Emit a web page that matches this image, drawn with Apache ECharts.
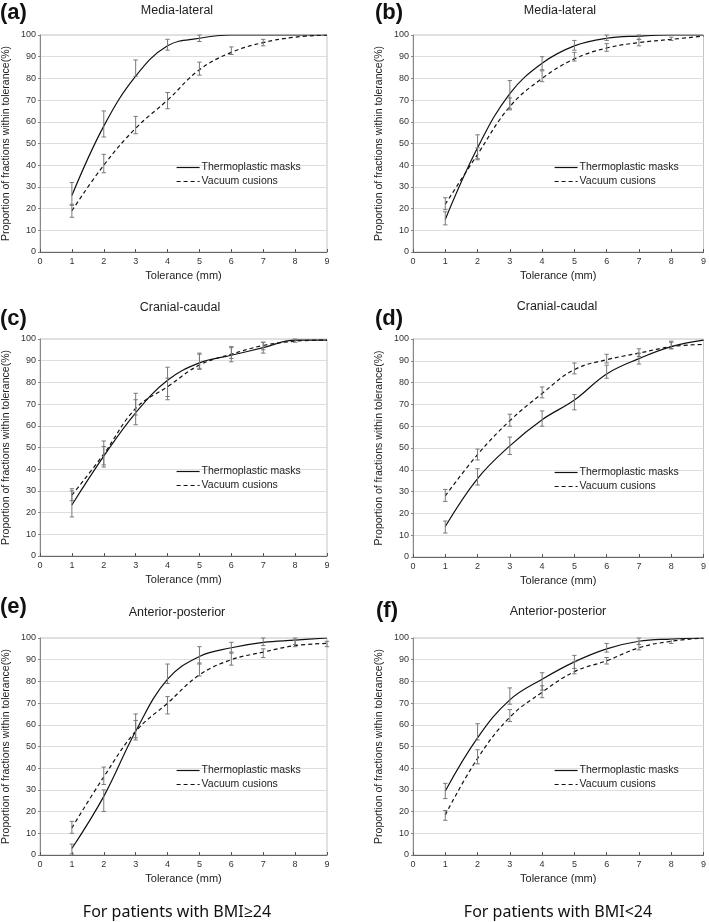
<!DOCTYPE html>
<html>
<head>
<meta charset="utf-8">
<script src="https://cdn.jsdelivr.net/npm/echarts@6/dist/echarts.min.js"></script>
<style>
html,body{margin:0;padding:0;background:#fff;}
#chart{width:709px;height:922px;}
</style>
</head>
<body>
<div id="chart"></div>
<script>
// ---- data ----
const tolerance = [1, 2, 3, 4, 5, 6, 7, 8, 9];
const xTickValues = [0, 1, 2, 3, 4, 5, 6, 7, 8, 9];
const seriesNames = ['Thermoplastic masks', 'Vacuum cusions'];
const panelLabels = ['(a)', '(b)', '(c)', '(d)', '(e)', '(f)'];
const panelTitles = ['Media-lateral', 'Media-lateral', 'Cranial-caudal', 'Cranial-caudal', 'Anterior-posterior', 'Anterior-posterior'];
const groupCaptions = ['For patients with BMI\u226524', 'For patients with BMI<24'];
const xAxisName = 'Tolerance (mm)';
const yAxisName = 'Proportion of fractions within tolerance(%)';

// (a) BMI>=24, media-lateral
const aMask = [26, 58, 81, 95, 98.5, 100, 100, 100, 100];
const aMaskLo = [21.5, 53, 81, 93, 97, null, null, null, null];
const aMaskHi = [32, 65, 88.5, 98, 100, null, null, null, null];
const aVac = [19, 40, 57, 70, 84, 92, 96.5, 99, 100];
const aVacLo = [16, 36.5, 54.5, 66, 81.5, 91, 95, null, null];
const aVacHi = [22, 45, 62.5, 73.5, 87.5, 94.5, 98, null, null];

// (b) BMI<24, media-lateral
const bMask = [15, 48, 73, 87, 95, 98.5, 99.5, 100, 100];
const bMaskLo = [12.5, 43, 66, 84, 93, 97.5, 98, null, null];
const bMaskHi = [18.5, 54, 79, 90, 97.5, 100, 100, null, null];
const bVac = [22, 45, 67, 80, 89, 94, 96.5, 98, 99.5];
const bVacLo = [19.5, 42.5, 65.5, 78.5, 88, 92.5, 95, 97.5, null];
const bVacHi = [25, 48, 71, 83.5, 92, 96, 98, 99, null];

// (c) BMI>=24, cranial-caudal
const cMask = [23.5, 46, 66, 81, 89, 92.5, 96, 99.5, 99.5];
const cMaskLo = [18, 41, 60.5, 72, 86, 89.5, 93.5, 98.5, null];
const cMaskHi = [30, 53, 72, 87, 93, 96.5, 98.5, 100, null];
const cVac = [28, 47, 68, 78, 88, 93, 97, 99, 99.5];
const cVacLo = [25.5, 42, 65, 73.5, 86.5, 91, 95, null, null];
const cVacHi = [31, 50.5, 75, 82, 93.5, 96, 98.5, null, null];

// (d) BMI<24, cranial-caudal
const dMask = [14, 36, 51, 63, 72, 84, 91, 96.5, 99.5];
const dMaskLo = [11, 33, 47, 60, 67.5, 82, 88.5, 95.5, null];
const dMaskHi = [16.5, 40.5, 55, 67, 74.5, 88, 93.5, 99, null];
const dVac = [28, 47, 62.5, 75, 86, 90.5, 93.5, 96.5, 97.5];
const dVacLo = [25.5, 44.5, 60, 73, 84, 89, 92, 95.5, null];
const dVacHi = [31, 49.5, 65.5, 78, 89, 93, 95.5, 98.5, null];

// (e) BMI>=24, anterior-posterior
const eMask = [3, 27, 57, 81, 91.5, 95.5, 98, 99, 100];
const eMaskLo = [0.5, 20, 54, 79, 88, 93, 96.5, 97, null];
const eMaskHi = [5, 30, 65, 88, 96, 98, 100, 100, null];
const eVac = [12.5, 36, 57, 70, 83, 90, 93.5, 96.5, 97.5];
const eVacLo = [10, 32.5, 53, 65, 82.5, 87.5, 91, 96, 96];
const eVacHi = [15.5, 40.5, 62, 73, 88.5, 93.5, 95, 99, 98.5];

// (f) BMI<24, anterior-posterior
const fMask = [29.5, 54, 71.5, 81, 89, 95, 98.5, 99.5, 100];
const fMaskLo = [26, 53, 69.5, 76, 86, 93.5, 97, null, null];
const fMaskHi = [33, 60.5, 77, 84, 92, 97.5, 100, null, null];
const fVac = [18.5, 44.5, 63.5, 75, 84.5, 89.5, 95.5, 98.5, 100];
const fVacLo = [16, 42, 61.5, 72.5, 83.5, 88, 94.5, 97.5, null];
const fVacHi = [20.5, 48.5, 67, 78, 89, 91, 98.5, 99.5, null];

const panels = [
  {mask: aMask, maskLo: aMaskLo, maskHi: aMaskHi, vac: aVac, vacLo: aVacLo, vacHi: aVacHi},
  {mask: bMask, maskLo: bMaskLo, maskHi: bMaskHi, vac: bVac, vacLo: bVacLo, vacHi: bVacHi},
  {mask: cMask, maskLo: cMaskLo, maskHi: cMaskHi, vac: cVac, vacLo: cVacLo, vacHi: cVacHi},
  {mask: dMask, maskLo: dMaskLo, maskHi: dMaskHi, vac: dVac, vacLo: dVacLo, vacHi: dVacHi},
  {mask: eMask, maskLo: eMaskLo, maskHi: eMaskHi, vac: eVac, vacLo: eVacLo, vacHi: eVacHi},
  {mask: fMask, maskLo: fMaskLo, maskHi: fMaskHi, vac: fVac, vacLo: fVacLo, vacHi: fVacHi}
];

// ---- layout ----
const gridBoxes = [
  {left: 35, top: 35, width: 292, height: 217},
  {left: 413, top: 35, width: 291, height: 217},
  {left: 35, top: 339, width: 292, height: 217},
  {left: 413, top: 339, width: 291, height: 218},
  {left: 35, top: 638, width: 292, height: 217},
  {left: 413, top: 638, width: 291, height: 217}
];
const labelPos = [[0, 13], [375, 13], [0, 319], [375, 319], [0, 607], [376, 611]];
const titlePos = [[177, 11], [560, 11], [180, 308], [557, 307], [177, 613], [558, 612]];
const legendPos = [[176, 162], [554, 162], [176, 466], [554, 467], [176, 765], [554, 765]];
const captionPos = [[177, 912], [558, 912]];

const FONT = '"Liberation Sans", Arial, sans-serif';

const grid = [], xAxis = [], yAxis = [], series = [], legend = [], graphic = [];

function errData(lo, hi) {
  const out = [];
  for (let i = 0; i < tolerance.length; i++) {
    if (lo[i] != null && hi[i] != null) out.push([tolerance[i], lo[i], hi[i]]);
  }
  return out;
}

function renderErr(params, api) {
  const x = api.value(0);
  const p1 = api.coord([x, api.value(1)]);
  const p2 = api.coord([x, api.value(2)]);
  const w = 2.2;
  const st = {stroke: '#7a7a7a', lineWidth: 1};
  return {
    type: 'group',
    children: [
      {type: 'line', shape: {x1: p1[0], y1: p1[1], x2: p2[0], y2: p2[1]}, style: st},
      {type: 'line', shape: {x1: p1[0] - w, y1: p1[1], x2: p1[0] + w, y2: p1[1]}, style: st},
      {type: 'line', shape: {x1: p2[0] - w, y1: p2[1], x2: p2[0] + w, y2: p2[1]}, style: st}
    ]
  };
}

panels.forEach((p, i) => {
  const g = gridBoxes[i];
  grid.push({left: g.left, top: g.top, width: g.width, height: g.height,
    show: true, borderColor: '#c4c4c4', borderWidth: 1, containLabel: false});
  xAxis.push({
    gridIndex: i, type: 'value', min: 0, max: 9, interval: 1,
    name: xAxisName, nameLocation: 'middle', nameGap: 18,
    nameTextStyle: {fontSize: 11, color: '#222', fontFamily: FONT},
    axisLine: {show: true, lineStyle: {color: '#666', width: 1}},
    axisTick: {show: true, inside: true, length: 3, lineStyle: {color: '#555'}},
    axisLabel: {fontSize: 9, color: '#333', margin: 5, fontFamily: FONT},
    splitLine: {show: false}
  });
  yAxis.push({
    gridIndex: i, type: 'value', min: 0, max: 100, interval: 10,
    name: yAxisName, nameLocation: 'middle', nameGap: 28, nameRotate: 90,
    nameTextStyle: {fontSize: 10.5, color: '#222', fontFamily: FONT},
    axisLine: {show: true, lineStyle: {color: '#888', width: 1}},
    axisTick: {show: true, length: 2, lineStyle: {color: '#888'}},
    axisLabel: {fontSize: 9, color: '#333', margin: 4, fontFamily: FONT},
    splitLine: {show: true, lineStyle: {color: '#dedede', width: 1}}
  });
  series.push({
    name: seriesNames[0], type: 'line', xAxisIndex: i, yAxisIndex: i,
    data: tolerance.map((t, k) => [t, p.mask[k]]),
    smooth: 0.4, symbol: 'none', showSymbol: false,
    lineStyle: {color: '#111', width: 1.2, type: 'solid'},
    itemStyle: {color: '#111'}, z: 3, silent: true
  });
  series.push({
    name: seriesNames[1], type: 'line', xAxisIndex: i, yAxisIndex: i,
    data: tolerance.map((t, k) => [t, p.vac[k]]),
    smooth: 0.4, symbol: 'none', showSymbol: false,
    lineStyle: {color: '#111', width: 1.2, type: [4, 3]},
    itemStyle: {color: '#111'}, z: 3, silent: true
  });
  series.push({
    name: 'err-mask-' + i, type: 'custom', xAxisIndex: i, yAxisIndex: i,
    data: errData(p.maskLo, p.maskHi), renderItem: renderErr,
    encode: {x: 0, y: [1, 2]}, z: 4, silent: true
  });
  series.push({
    name: 'err-vac-' + i, type: 'custom', xAxisIndex: i, yAxisIndex: i,
    data: errData(p.vacLo, p.vacHi), renderItem: renderErr,
    encode: {x: 0, y: [1, 2]}, z: 4, silent: true
  });
  legend.push({
    data: seriesNames, orient: 'vertical', left: legendPos[i][0], top: legendPos[i][1],
    icon: 'inherit',
    itemWidth: 23, itemHeight: 10, itemGap: 3, padding: 0, selectedMode: false,
    itemStyle: {opacity: 0},
    lineStyle: {width: 1.2},
    textStyle: {fontSize: 10.5, color: '#222', fontFamily: FONT, padding: [0, 0, 0, -3]}
  });
  graphic.push({
    type: 'text', x: labelPos[i][0], y: labelPos[i][1],
    style: {text: panelLabels[i], font: 'bold 22px ' + FONT, fill: '#111',
      textAlign: 'left', textVerticalAlign: 'middle'}
  });
  graphic.push({
    type: 'text', x: titlePos[i][0], y: titlePos[i][1],
    style: {text: panelTitles[i], font: '12.5px ' + FONT, fill: '#222',
      textAlign: 'center', textVerticalAlign: 'middle'}
  });
});

groupCaptions.forEach((c, j) => {
  graphic.push({
    type: 'text', x: captionPos[j][0], y: captionPos[j][1],
    style: {text: c, font: '16px "Noto Sans", "Open Sans", sans-serif', fill: '#111',
      textAlign: 'center', textVerticalAlign: 'middle'}
  });
});

const chart = echarts.init(document.getElementById('chart'), null, {renderer: 'canvas'});
chart.setOption({
  animation: false,
  backgroundColor: '#fff',
  textStyle: {fontFamily: FONT},
  grid: grid, xAxis: xAxis, yAxis: yAxis, series: series, legend: legend, graphic: graphic
});
</script>
</body>
</html>
